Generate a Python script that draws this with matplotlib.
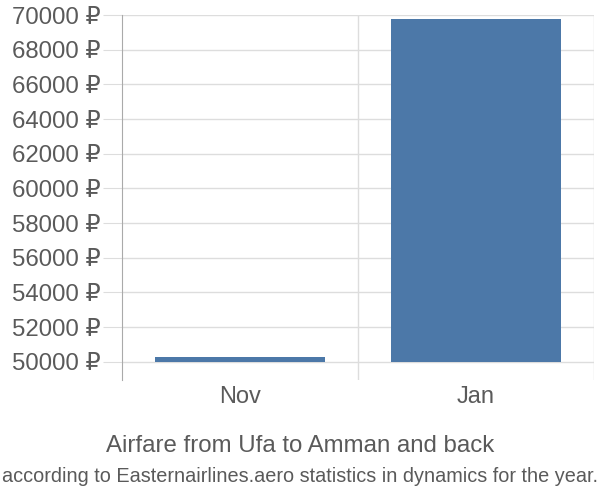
import matplotlib.pyplot as plt

plt.rcParams['font.family'] = ['Liberation Sans', 'DejaVu Sans']

months = ["Nov", "Jan"]
prices = [50270, 69770]
base = 50000
yticks = list(range(50000, 70001, 2000))

fig = plt.figure(figsize=(6, 5), dpi=100)
ax = fig.add_axes([0.203, 0.24, 0.787, 0.73])

x = list(range(len(months)))
ax.bar(x, [p - base for p in prices], bottom=base, width=0.72,
       color="#4c78a8", zorder=3)

ax.set_xlim(-0.5, 1.5)
ax.set_ylim(48950, 70000)
ax.set_yticks(yticks)
ax.set_yticklabels([f"{t} ₽" for t in yticks], fontsize=17.3, color="#5a5a5a")
ax.set_xticks(x)
ax.set_xticklabels(months, fontsize=17, color="#5a5a5a")

# vertical lines at category boundaries
for b in [0.5, 1.5]:
    ax.axvline(b, color="#dddddd", linewidth=1, zorder=1)
ax.grid(axis="y", color="#dddddd", linewidth=1, zorder=1)

for s in ["top", "right", "bottom"]:
    ax.spines[s].set_visible(False)
ax.spines["left"].set_color("#aaaaaa")
ax.tick_params(axis="y", length=14, color="#dddddd", pad=1)
ax.tick_params(axis="x", length=0, pad=4)

fig.text(0.5, 0.107, "Airfare from Ufa to Amman and back", ha="center",
         va="center", fontsize=17.3, color="#5a5a5a")
fig.text(0.5, 0.048, "according to Easternairlines.aero statistics in dynamics for the year.",
         ha="center", va="center", fontsize=14.3, color="#5a5a5a")

fig.savefig("out.png", dpi=100)
